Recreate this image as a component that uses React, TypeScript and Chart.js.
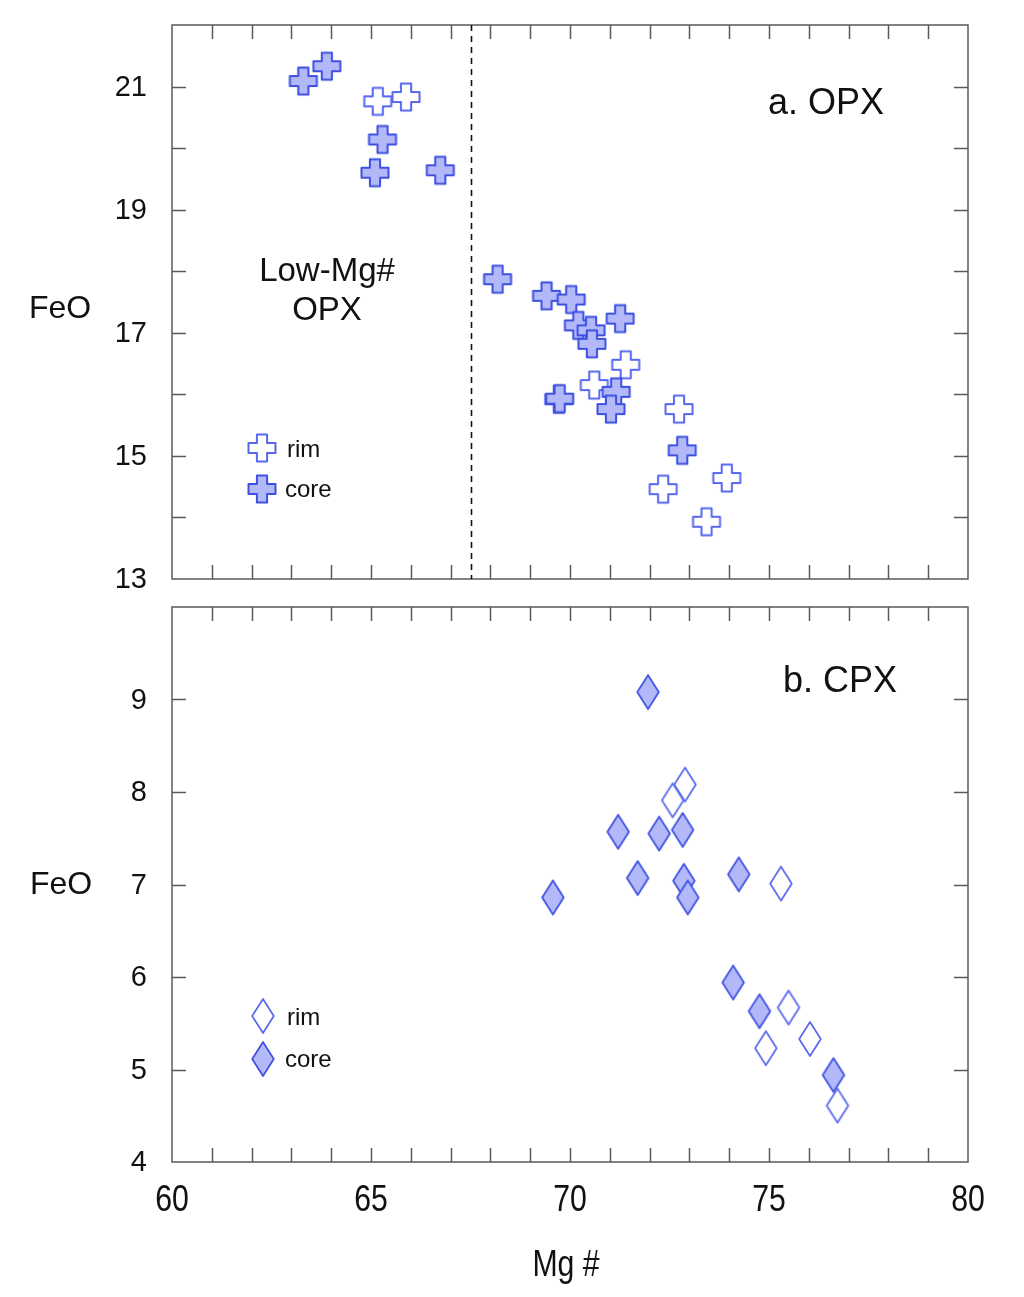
import React, { useEffect, useRef } from "react";
import { Chart, registerables } from "chart.js";

Chart.register(...registerables);

// ---------- data ----------
const xMin = 60;
const xMax = 80;
const xTickLabels = [60, 65, 70, 75, 80];

const opxYMin = 13;
const opxYMax = 22;
const opxYTickLabels = [13, 15, 17, 19, 21];

const cpxYMin = 4;
const cpxYMax = 10;
const cpxYTickLabels = [4, 5, 6, 7, 8, 9];

const lowMgBoundary = 67.5;

const opxRimMg = [65.17, 65.88, 71.4, 70.61, 72.74, 72.34, 73.94, 73.43];
const opxRimFeO = [20.76, 20.83, 16.48, 16.15, 15.76, 14.46, 14.64, 13.93];

const opxCoreMg = [63.3, 63.89, 65.29, 65.1, 66.74, 68.18, 69.41, 70.03, 70.21, 70.53, 70.55, 71.26, 69.72, 69.74, 71.16, 71.03, 72.82];
const opxCoreFeO = [21.09, 21.33, 20.14, 19.6, 19.64, 17.87, 17.6, 17.54, 17.12, 17.04, 16.82, 17.23, 15.92, 15.93, 16.04, 15.76, 15.09];

const cpxRimMg = [72.89, 72.58, 75.3, 75.49, 74.92, 76.03, 76.72];
const cpxRimFeO = [8.08, 7.91, 7.01, 5.67, 5.23, 5.33, 4.61];

const cpxCoreMg = [71.96, 71.21, 72.24, 72.83, 71.7, 72.86, 72.96, 74.24, 69.57, 74.1, 74.76, 76.62];
const cpxCoreFeO = [9.08, 7.57, 7.55, 7.59, 7.07, 7.04, 6.86, 7.11, 6.86, 5.94, 5.63, 4.94];

const legendLabels = ["rim", "core"];

// ---------- styles ----------
const CORE_FILL = "#b3b8f9";
const CORE_STROKE = "#3d50e0";
const RIM_FILL = "#ffffff";
const RIM_STROKE = "#5668ef";
const AXIS_COLOR = "#5a5a5a";
const TEXT_COLOR = "#111111";
const SANS = '"Liberation Sans", Arial, Helvetica, sans-serif';

function makePlus(fill: string, stroke: string): HTMLCanvasElement {
  const s = 32;
  const c = document.createElement("canvas");
  c.width = s;
  c.height = s;
  const ctx = c.getContext("2d")!;
  const m = s / 2;
  const a = 13.5;
  const t = 5.1;
  ctx.beginPath();
  ctx.moveTo(m - t, m - a);
  ctx.lineTo(m + t, m - a);
  ctx.lineTo(m + t, m - t);
  ctx.lineTo(m + a, m - t);
  ctx.lineTo(m + a, m + t);
  ctx.lineTo(m + t, m + t);
  ctx.lineTo(m + t, m + a);
  ctx.lineTo(m - t, m + a);
  ctx.lineTo(m - t, m + t);
  ctx.lineTo(m - a, m + t);
  ctx.lineTo(m - a, m - t);
  ctx.lineTo(m - t, m - t);
  ctx.closePath();
  ctx.lineJoin = "round";
  ctx.fillStyle = fill;
  ctx.fill();
  ctx.strokeStyle = stroke;
  ctx.lineWidth = 2;
  ctx.stroke();
  return c;
}

function makeDiamond(fill: string, stroke: string): HTMLCanvasElement {
  const w = 26;
  const h = 38;
  const c = document.createElement("canvas");
  c.width = w;
  c.height = h;
  const ctx = c.getContext("2d")!;
  const cx = w / 2;
  const cy = h / 2;
  const hw = 10.8;
  const hh = 17;
  ctx.beginPath();
  ctx.moveTo(cx, cy - hh);
  ctx.lineTo(cx + hw, cy);
  ctx.lineTo(cx, cy + hh);
  ctx.lineTo(cx - hw, cy);
  ctx.closePath();
  ctx.lineJoin = "round";
  ctx.fillStyle = fill;
  ctx.fill();
  ctx.strokeStyle = stroke;
  ctx.lineWidth = 1.7;
  ctx.stroke();
  return c;
}

function toPoints(xs: number[], ys: number[]) {
  return xs.map((v, i) => ({ x: v, y: ys[i] }));
}

type PanelCfg = {
  yMin: number;
  yMax: number;
  yTickLabels: number[];
  showXLabels: boolean;
  dashed: boolean;
  title: string;
  titlePos: [number, number];
  feoPos: [number, number];
  legendIcons: HTMLCanvasElement[];
  legendPos: { icon: [number, number]; text: [number, number] }[];
  extraText: { text: string; x: number; y: number }[];
  xLabelY: number;
  xTitleY: number;
};

function narrowText(ctx: CanvasRenderingContext2D, text: string, x: number, y: number) {
  ctx.save();
  ctx.translate(x, y);
  ctx.scale(0.84, 1);
  ctx.fillText(text, 0, 0);
  ctx.restore();
}

function makePlugin(cfg: PanelCfg) {
  return {
    id: "panelDecor",
    beforeDatasetsDraw(chart: any) {
      const { ctx, chartArea: a, scales } = chart;
      const x = scales.x;
      const y = scales.y;
      ctx.save();
      ctx.strokeStyle = AXIS_COLOR;
      ctx.lineWidth = 1.5;
      const tl = 14;
      ctx.beginPath();
      for (let v = xMin + 1; v < xMax; v++) {
        const px = Math.round(x.getPixelForValue(v)) + 0.5;
        ctx.moveTo(px, a.top);
        ctx.lineTo(px, a.top + tl);
        ctx.moveTo(px, a.bottom);
        ctx.lineTo(px, a.bottom - tl);
      }
      for (let v = cfg.yMin + 1; v < cfg.yMax; v++) {
        const py = Math.round(y.getPixelForValue(v)) + 0.5;
        ctx.moveTo(a.left, py);
        ctx.lineTo(a.left + tl, py);
        ctx.moveTo(a.right, py);
        ctx.lineTo(a.right - tl, py);
      }
      ctx.stroke();
      ctx.strokeRect(a.left, a.top, a.right - a.left, a.bottom - a.top);

      if (cfg.dashed) {
        const px = Math.round(x.getPixelForValue(lowMgBoundary)) + 0.5;
        ctx.strokeStyle = "#111";
        ctx.lineWidth = 1.6;
        ctx.setLineDash([6, 5]);
        ctx.beginPath();
        ctx.moveTo(px, a.top);
        ctx.lineTo(px, a.bottom);
        ctx.stroke();
        ctx.setLineDash([]);
      }
      ctx.restore();
    },
    afterDraw(chart: any) {
      const { ctx, chartArea: a, scales } = chart;
      const x = scales.x;
      const y = scales.y;
      ctx.save();
      ctx.fillStyle = TEXT_COLOR;
      // y tick labels
      ctx.font = `29px ${SANS}`;
      ctx.textAlign = "right";
      ctx.textBaseline = "middle";
      cfg.yTickLabels.forEach((v) => {
        ctx.fillText(String(v), a.left - 25, y.getPixelForValue(v) + 1);
      });
      // y title
      ctx.font = `32px ${SANS}`;
      ctx.textAlign = "center";
      ctx.fillText("FeO", cfg.feoPos[0], cfg.feoPos[1]);
      // panel title
      ctx.font = `36px ${SANS}`;
      ctx.fillText(cfg.title, cfg.titlePos[0], cfg.titlePos[1]);
      // extra text
      ctx.font = `33px ${SANS}`;
      cfg.extraText.forEach((t) => ctx.fillText(t.text, t.x, t.y));
      // x labels
      if (cfg.showXLabels) {
        ctx.font = `36px ${SANS}`;
        xTickLabels.forEach((v) => {
          narrowText(ctx, String(v), x.getPixelForValue(v), cfg.xLabelY);
        });
        narrowText(ctx, "Mg #", (a.left + a.right) / 2 - 4, cfg.xTitleY);
      }
      // legend
      ctx.font = `24px ${SANS}`;
      ctx.textAlign = "left";
      cfg.legendPos.forEach((p, i) => {
        const img = cfg.legendIcons[i];
        ctx.drawImage(img, p.icon[0] - img.width / 2, p.icon[1] - img.height / 2);
        ctx.fillText(legendLabels[i], p.text[0], p.text[1]);
      });
      ctx.restore();
    },
  };
}

function buildChart(
  canvas: HTMLCanvasElement,
  cfg: PanelCfg,
  padding: { left: number; right: number; top: number; bottom: number },
  datasets: any[]
) {
  return new Chart(canvas, {
    type: "scatter",
    data: { datasets },
    options: {
      animation: false,
      responsive: false,
      maintainAspectRatio: false,
      devicePixelRatio: 1,
      layout: { padding },
      scales: {
        x: { type: "linear", min: xMin, max: xMax, display: false },
        y: { type: "linear", min: cfg.yMin, max: cfg.yMax, display: false },
      },
      plugins: {
        legend: { display: false },
        tooltip: { enabled: false },
      },
    } as any,
    plugins: [makePlugin(cfg)],
  });
}

export default function App() {
  const topRef = useRef<HTMLCanvasElement | null>(null);
  const botRef = useRef<HTMLCanvasElement | null>(null);

  useEffect(() => {
    const plusCore = makePlus(CORE_FILL, CORE_STROKE);
    const plusRim = makePlus(RIM_FILL, RIM_STROKE);
    const diaCore = makeDiamond(CORE_FILL, CORE_STROKE);
    const diaRim = makeDiamond(RIM_FILL, RIM_STROKE);

    const topCfg: PanelCfg = {
      yMin: opxYMin,
      yMax: opxYMax,
      yTickLabels: opxYTickLabels,
      showXLabels: false,
      dashed: true,
      title: "a. OPX",
      titlePos: [826, 104],
      feoPos: [60, 309],
      legendIcons: [plusRim, plusCore],
      legendPos: [
        { icon: [262, 448], text: [287, 450] },
        { icon: [262, 489], text: [285, 490] },
      ],
      extraText: [
        { text: "Low-Mg#", x: 327, y: 272 },
        { text: "OPX", x: 327, y: 311 },
      ],
      xLabelY: 0,
      xTitleY: 0,
    };
    const botCfg: PanelCfg = {
      yMin: cpxYMin,
      yMax: cpxYMax,
      yTickLabels: cpxYTickLabels,
      showXLabels: true,
      dashed: false,
      title: "b. CPX",
      titlePos: [840, 89],
      feoPos: [61, 292],
      legendIcons: [diaRim, diaCore],
      legendPos: [
        { icon: [263, 423], text: [287, 425] },
        { icon: [263, 466], text: [285, 467] },
      ],
      extraText: [],
      xLabelY: 608,
      xTitleY: 673,
    };

    const top = buildChart(
      topRef.current!,
      topCfg,
      { left: 172, right: 56, top: 25, bottom: 12 },
      [
        { label: "core", data: toPoints(opxCoreMg, opxCoreFeO), pointStyle: plusCore, pointRadius: 13 },
        { label: "rim", data: toPoints(opxRimMg, opxRimFeO), pointStyle: plusRim, pointRadius: 13 },
      ]
    );
    const bot = buildChart(
      botRef.current!,
      botCfg,
      { left: 172, right: 56, top: 12, bottom: 135 },
      [
        { label: "core", data: toPoints(cpxCoreMg, cpxCoreFeO), pointStyle: diaCore, pointRadius: 13 },
        { label: "rim", data: toPoints(cpxRimMg, cpxRimFeO), pointStyle: diaRim, pointRadius: 13 },
      ]
    );
    return () => {
      top.destroy();
      bot.destroy();
    };
  }, []);

  return (
    <div style={{ position: "absolute", left: 0, top: 0, width: 1024, height: 1297, background: "#fff" }}>
      <canvas ref={topRef} width={1024} height={593} style={{ position: "absolute", left: 0, top: 0, width: 1024, height: 593 }} />
      <canvas ref={botRef} width={1024} height={704} style={{ position: "absolute", left: 0, top: 593, width: 1024, height: 704 }} />
    </div>
  );
}
